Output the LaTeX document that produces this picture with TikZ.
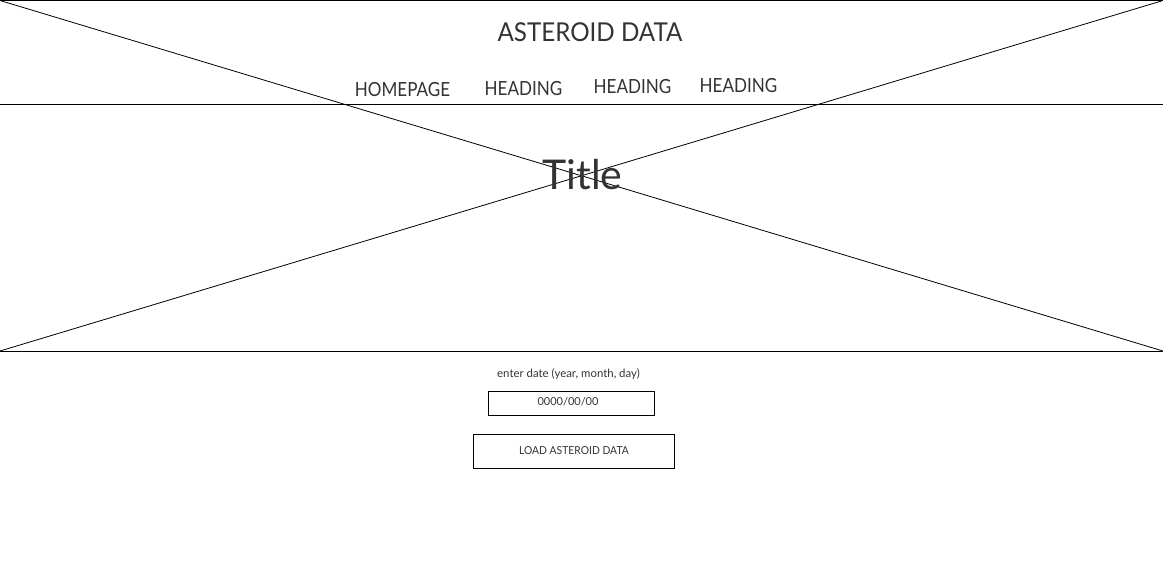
\documentclass[tikz,border=0pt]{standalone}
\usepackage{fontspec}
\setmainfont{Lato}
\newfontfamily\capsA[FakeStretch=0.93]{Lato}
\newfontfamily\capsB[FakeStretch=0.875]{Lato}
\newfontfamily\capsC[FakeStretch=0.94]{Lato}
\definecolor{txt}{HTML}{333333}
\tikzset{
  lbl/.style={text=txt, inner sep=0pt, anchor=base},
  frame/.style={draw=black, line width=1pt},
  fieldbox/.style={draw=black, line width=0.9pt, fill=none, inner sep=0pt, text=txt}
}
\begin{document}
\begin{tikzpicture}[x=1pt,y=-1pt]
\useasboundingbox (0,0) rectangle (1163,568);
\coordinate (tl) at (0,0.5);
\coordinate (tr) at (1163,0.5);
\coordinate (ml) at (0,104);
\coordinate (mr) at (1163,104);
\coordinate (bl) at (0,351);
\coordinate (br) at (1163,351);
\draw[frame] (tl) -- (tr);
\draw[frame] (ml) -- (mr);
\draw[frame] (bl) -- (br);
\draw[line width=0.8pt] (tl) -- (br);
\draw[line width=0.8pt] (bl) -- (tr);
\node[lbl, font=\capsA\fontsize{26}{30}\selectfont] (site) at (590,41) {ASTEROID DATA};
\node[lbl, font=\capsB\fontsize{19.5}{22}\selectfont] (h0) at (402.5,96) {HOMEPAGE};
\node[lbl, font=\capsB\fontsize{19.5}{22}\selectfont] (h1) at (523.5,95) {HEADING};
\node[lbl, font=\capsB\fontsize{19.5}{22}\selectfont] (h2) at (632.5,93) {HEADING};
\node[lbl, font=\capsB\fontsize{19.5}{22}\selectfont] (h3) at (738.5,92) {HEADING};
\node[lbl, font=\fontsize{41}{46}\selectfont] (title) at (582.5,189) {Title};
\node[lbl, font=\fontsize{11.4}{13}\selectfont] (prompt) at (568.5,377) {enter date (year, month, day)};
\draw[fieldbox] (488,391) rectangle (654.5,415);
\node[lbl, font=\fontsize{11}{13}\selectfont] (date) at (568,405) {0000/00/00};
\draw[fieldbox] (473.5,434.5) rectangle (674.5,468);
\node[lbl, font=\capsC\fontsize{11}{13}\selectfont] (load) at (574,454) {LOAD ASTEROID DATA};
\end{tikzpicture}
\end{document}
